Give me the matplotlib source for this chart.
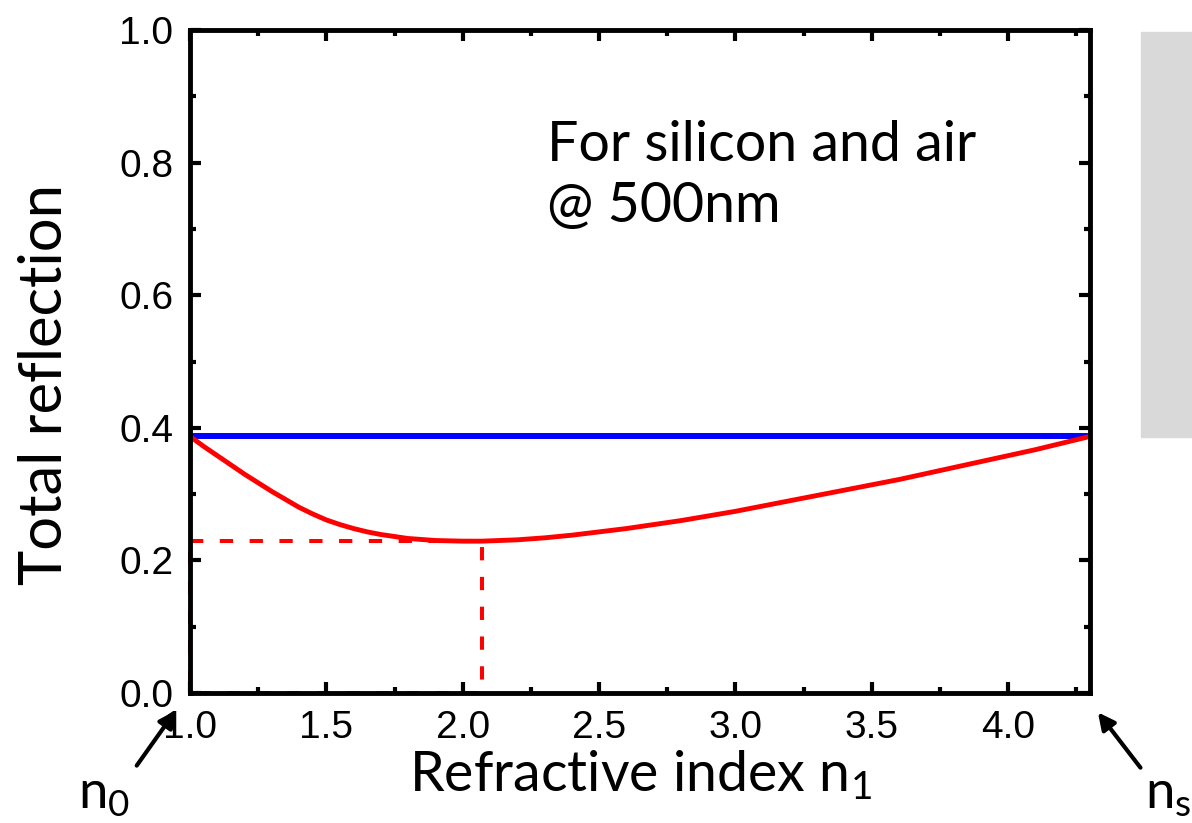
import matplotlib.pyplot as plt
from matplotlib.patches import Rectangle
from matplotlib.ticker import MultipleLocator

# Refractive index of the layer vs total reflection
n1 = [1.0, 1.05, 1.1, 1.15, 1.2, 1.25, 1.3, 1.35, 1.4, 1.45, 1.5, 1.55, 1.6,
      1.65, 1.7, 1.75, 1.8, 1.9, 2.0, 2.07,
      2.2, 2.3, 2.4, 2.5, 2.6, 2.7, 2.8, 2.9, 3.0, 3.1, 3.2, 3.3, 3.4, 3.5,
      3.6, 3.7, 3.8, 3.9, 4.0, 4.1, 4.2, 4.3]
R_layer = [0.387, 0.372, 0.358, 0.344, 0.330, 0.317, 0.304, 0.292, 0.280, 0.270,
           0.261, 0.254, 0.248, 0.243, 0.239, 0.236, 0.233, 0.230, 0.229, 0.229,
           0.231, 0.234, 0.238, 0.243, 0.248, 0.254, 0.260, 0.267, 0.274, 0.282,
           0.290, 0.298, 0.306, 0.314, 0.322, 0.331, 0.340, 0.349, 0.358, 0.367,
           0.377, 0.387]

# bare silicon reflection
n_range = [1.0, 4.3]
R_bare = [0.387, 0.387]

# optimum marker
n_opt = 2.07
R_opt = 0.229

plt.rcParams['font.family'] = ['Liberation Sans', 'DejaVu Sans']
plt.rcParams['mathtext.fontset'] = 'custom'
plt.rcParams['mathtext.rm'] = 'Lato'
plt.rcParams['mathtext.it'] = 'Lato'
label_font = ['Lato', 'DejaVu Sans']

fig = plt.figure(figsize=(11.92, 8.23), dpi=100)
ax = fig.add_axes([0.1594, 0.158, 0.755, 0.8055])

# dashed box to the minimum
ax.plot([n_range[0], n_opt, n_opt, n_range[0], n_range[0]],
        [R_opt, R_opt, 0, 0, R_opt],
        color='red', lw=2.9, ls=(0, (3.3, 4.1)), clip_on=False, zorder=1)

ax.plot(n_range, R_bare, color='blue', lw=4.3, zorder=3)
ax.plot(n1, R_layer, color='red', lw=3.5, zorder=4, solid_capstyle='butt')

ax.set_xlim(1.0, 4.3)
ax.set_ylim(0, 1.0)
ax.xaxis.set_major_locator(MultipleLocator(0.5))
ax.xaxis.set_minor_locator(MultipleLocator(0.25))
ax.yaxis.set_major_locator(MultipleLocator(0.2))
ax.yaxis.set_minor_locator(MultipleLocator(0.1))
ax.xaxis.set_major_formatter(lambda v, p: f'{v:.1f}')
ax.yaxis.set_major_formatter(lambda v, p: f'{v:.1f}')
ax.tick_params(which='both', direction='in', top=True, right=True,
               width=3, labelsize=28, pad=12)
ax.tick_params(which='major', length=8)
ax.tick_params(which='minor', length=4.5)
for s in ax.spines.values():
    s.set_linewidth(3.5)
    s.set_zorder(5)

ax.set_xlabel('Refractive index n$_1$', fontsize=40, family=label_font, labelpad=2)
ax.set_ylabel('Total reflection', fontsize=43, family=label_font)
ax.yaxis.set_label_coords(-0.131, 0.465)

ax.text(2.31, 0.865, 'For silicon and air\n@ 500nm', fontsize=40,
        family=label_font, va='top', ha='left', linespacing=1.25)

# arrows to n0 and ns
ax.annotate('', xy=(-0.014, -0.023), xytext=(-0.061, -0.113),
            xycoords='axes fraction', textcoords='axes fraction',
            arrowprops=dict(arrowstyle='-|>', color='black', lw=3,
                            mutation_scale=25))
ax.annotate('', xy=(1.007, -0.026), xytext=(1.058, -0.116),
            xycoords='axes fraction', textcoords='axes fraction',
            arrowprops=dict(arrowstyle='-|>', color='black', lw=3,
                            mutation_scale=25))
fig.text(0.087, 0.034, 'n$_0$', fontsize=38, family=label_font, ha='center', va='center')
fig.text(0.98, 0.034, 'n$_s$', fontsize=38, family=label_font, ha='center', va='center')

# grey block at the right edge
fig.patches.append(Rectangle((1141 / 1192, 1 - 437 / 823), 51 / 1192, 405 / 823,
                             transform=fig.transFigure, color='#d9d9d9', zorder=0))

fig.savefig('out.png', dpi=100)
